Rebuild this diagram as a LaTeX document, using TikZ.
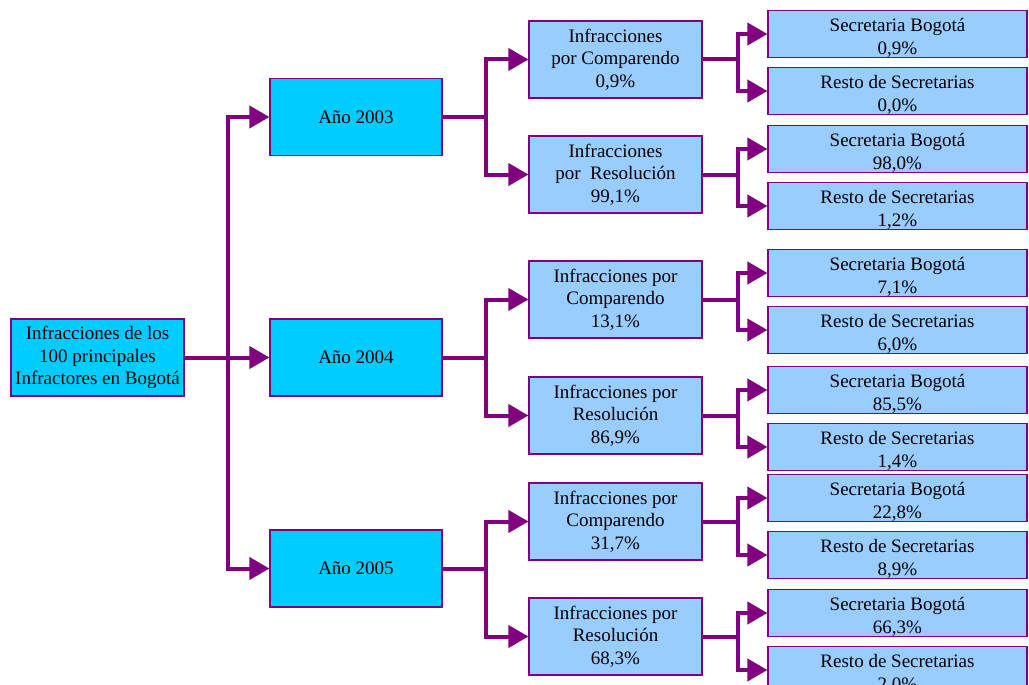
\documentclass[tikz,border=0pt]{standalone}
\usepackage{fontspec}
\setmainfont{Liberation Serif}
\usepackage{tikz}
\usetikzlibrary{arrows.meta}
\definecolor{morado}{RGB}{128,0,128}
\definecolor{cian}{RGB}{0,204,255}
\definecolor{azul}{RGB}{153,204,255}
\newcommand{\baja}{\rule{0pt}{21pt}}
\begin{document}
\begin{tikzpicture}[x=1pt, y=-1pt,
    caja/.style={draw=morado, line width=1.2pt, align=center, inner sep=0pt,
        font=\fontsize{19}{22.5}\selectfont},
    raiz/.style={caja, fill=cian, minimum width=173pt, minimum height=77pt},
    anio/.style={caja, fill=cian, minimum width=172pt, minimum height=77pt},
    medio/.style={caja, fill=azul, minimum width=173pt, minimum height=77pt},
    hoja/.style={caja, fill=azul, minimum width=259pt, minimum height=46pt},
    flecha/.style={draw=morado, line width=4pt, -{Triangle[length=20pt,width=22pt]}}]
    \clip (0,0) rectangle (1029,685);
    \fill[white] (0,0) rectangle (1029,685);
    \node[raiz] (raiz) at (97.5,357.5) {Infracciones de los\\100 principales\\Infractores en Bogotá};
    \foreach[count=\i] \anio/\y in {2003/117,2004/357.5,2005/568.5} {
        \node[anio] (a-\i) at (356,\y) {Año \anio};
    }
    % nivel intermedio
    \node[medio] (m-1-1) at (615.5,59.5) {Infracciones\\por Comparendo\\0,9\%};
    \node[medio] (m-1-2) at (615.5,174.5) {Infracciones\\por\ \ Resolución\\99,1\%};
    \node[medio] (m-2-1) at (615.5,299.5) {Infracciones por\\Comparendo\\13,1\%};
    \node[medio] (m-2-2) at (615.5,415.5) {Infracciones por\\Resolución\\86,9\%};
    \node[medio] (m-3-1) at (615.5,521.5) {Infracciones por\\Comparendo\\31,7\%};
    \node[medio] (m-3-2) at (615.5,636.5) {Infracciones por\\Resolución\\68,3\%};
    % secretarias
    \foreach \i/\j/\y/\p/\q in {1/1/34/{0,9}/{0,0},1/2/149/{98,0}/{1,2},
        2/1/273/{7,1}/{6,0},2/2/390/{85,5}/{1,4},
        3/1/498/{22,8}/{8,9},3/2/613/{66,3}/{2,0}} {
        \node[hoja] (h-\i-\j-1) at (897.5,\y) {\baja Secretaria Bogotá\\\p\%};
        \node[hoja] (h-\i-\j-2) at (897.5,\y+57) {\baja Resto de Secretarias\\\q\%};
    }
    \foreach \i in {1,2,3} {
        \draw[flecha] (raiz.east) -- ++(43,0) |- (a-\i.west);
        \foreach \j in {1,2} {
            \draw[flecha] (a-\i.east) -- ++(43,0) |- (m-\i-\j.west);
            \foreach \k in {1,2}
                \draw[flecha] (m-\i-\j.east) -- ++(35,0) |- (h-\i-\j-\k.west);
        }
    }
\end{tikzpicture}
\end{document}
